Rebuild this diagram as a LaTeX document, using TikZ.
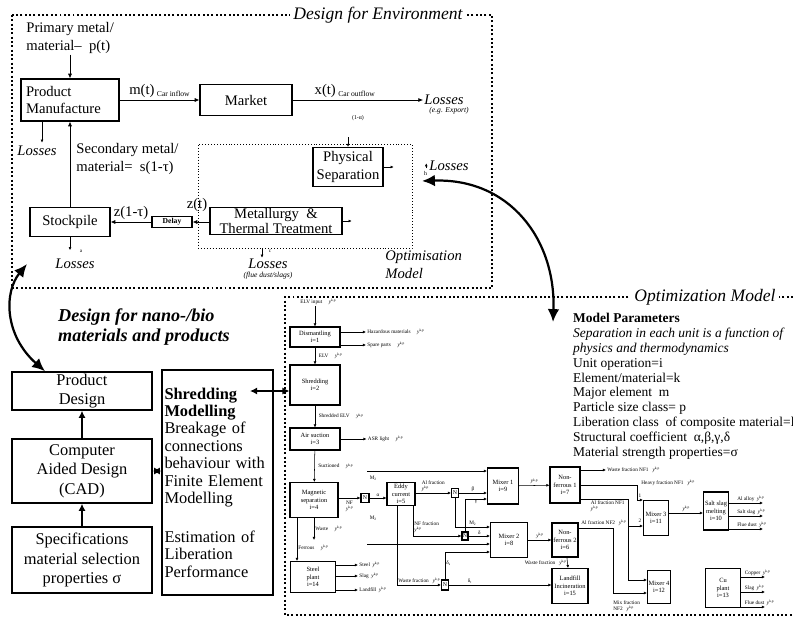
\documentclass[tikz,border=0pt]{standalone}
\usepackage{fontspec}
\setmainfont{Liberation Serif}
\usetikzlibrary{arrows.meta,positioning}
\newcommand{\ykp}{\textit{y}\raisebox{1.3pt}{\fontsize{3}{3}\selectfont k,p}}
\newcommand{\lowi}[1]{\raisebox{-0.8pt}{\fontsize{3}{3}\selectfont #1}}
\tikzset{
  frame/.style={line width=1.7pt, dotted},
  thinframe/.style={draw, line width=0.5pt, dotted, inner sep=0pt},
  box/.style={draw, line width=1.1pt, align=center, inner sep=2pt, font=\fontsize{12.5}{15}\selectfont},
  lbox/.style={box, line width=1.3pt, inner ysep=1pt, font=\fontsize{14}{16.6}\selectfont},
  unit/.style={draw, line width=0.9pt, align=center, inner sep=0.5pt, font=\fontsize{5.5}{6.3}\selectfont},
  nbox/.style={draw, line width=0.9pt, inner sep=0pt, font=\fontsize{5}{5}\selectfont},
  lbl/.style={align=left, inner sep=1pt, font=\fontsize{12.5}{15}\selectfont},
  loss/.style={inner sep=1pt, font=\fontsize{12.5}{15}\itshape},
  tlbl/.style={align=left, inner sep=1pt, font=\fontsize{4.5}{5.2}\selectfont},
  ttl/.style={fill=white, inner xsep=3pt, inner ysep=1pt, font=\fontsize{15}{17}\itshape},
  sz/.style 2 args={minimum width=#1*0.03cm, minimum height=#2*0.03cm},
  flow/.style={-{Latex[length=4pt, width=3.5pt]}, line width=0.6pt},
  sflow/.style={-{Latex[length=2.6pt, width=2.4pt]}, line width=0.45pt},
  uflow/.style={-{Latex[length=6pt, width=6pt]}, line width=1.4pt},
  dflow/.style={{Latex[length=6pt, width=6pt]}-{Latex[length=6pt, width=6pt]}, line width=1.3pt},
  link/.style={{Latex[length=11pt, width=10pt]}-{Latex[length=11pt, width=10pt]}, line width=1.9pt}
}
\begin{document}
\begin{tikzpicture}[x=0.03cm, y=-0.03cm]
\useasboundingbox (0,0) rectangle (793,620);

% design for environment
\draw[frame] (12,15) rectangle (492,288);
\node[ttl] (dfe) at (378,15) {Design for Environment};

\node[lbl, anchor=north west] (prim) at (25,21) {Primary metal/\\material–\enspace p(t)};
\node[box, sz={98}{42}, align=left, text width=88*0.03cm] (pm) at (70,100) {Product\\Manufacture};
\node[box, sz={92}{31}] (mkt) at (246,100) {Market};
\node[loss, anchor=west] (lossx) at (423,100) {Losses};
\node[font=\fontsize{6.5}{7}\itshape, anchor=north west, inner sep=1pt] (exp) at (428,106) {(e.g. Export)};
\node[font=\fontsize{5}{6}\selectfont] (frac) at (358,118) {(1-α)};
\draw[flow] (prim.south -| pm.north) -- (pm.north);
\draw[flow] (pm) -- (mkt) node[midway, above=1pt, lbl] {m(t)\,\raisebox{-2pt}{\fontsize{6.5}{7}\selectfont Car inflow}};
\draw[flow] (mkt) -- (lossx) node[pos=0.4, above=1pt, lbl] {x(t)\,\raisebox{-2pt}{\fontsize{6.5}{7}\selectfont Car outflow}};

% optimisation part
\node[thinframe, sz={214}{104}] (opt) at (305,196) {};
\node[box, sz={70}{39}] (ps) at (348,167) {Physical\\Separation};
\node[box, sz={132}{27}, inner ysep=0pt, font=\fontsize{12.5}{13}\selectfont] (mtt) at (276,221) {Metallurgy \ \&\\Thermal Treatment};
\coordinate (psin) at (348,137);
\draw[sflow] (psin) -- (ps.north);
\draw[sflow] (ps.east) -- ++(10,0);
\node[loss, anchor=west] (lossh) at (428,166) {Losses};
\draw[sflow] ([xshift=-1.5pt, yshift=-2pt]lossh.west) -- ++(0,-5);
\node[font=\fontsize{5}{5}\selectfont, inner sep=0pt] at ([xshift=-2pt, yshift=-6pt]lossh.west) {h};
\draw[sflow] (mtt.east) -- ++(9,0);
\node[loss] (lossc) at (268,264) {Losses};
\node[font=\fontsize{6.5}{7}\itshape, inner sep=0pt] (flue) at (268,276) {(flue dust/slags)};
\draw[sflow] (opt.south -| 262,0) -- (lossc.north -| 262,0);
\node[tlbl] at (270,251) {c};
\node[lbl, anchor=north west, font=\fontsize{12.5}{15.5}\itshape] (optm) at (384,249) {Optimisation\\Model};

\node[lbl] (zt) at (197,205) {z(t)};
\node[draw, line width=1pt, sz={40}{11}, inner sep=0pt, font=\fontsize{6.5}{7}\bfseries] (dly) at (172,222) {Delay};
\node[box, sz={80}{29}] (stk) at (70,222) {Stockpile};
\draw[flow] (mtt.west |- dly) -- (dly);
\draw[flow] (dly) -- (stk) node[midway, above=1pt, lbl] {z(1-τ)};
\draw[flow] (stk) -- (pm);
\node[lbl, anchor=north west] (sec) at (75,142) {Secondary metal/\\material=\enspace s(1-τ)};
\draw[sflow] (pm.south -| 42,0) -- ++(0,21);
\node[loss] (lossa) at (37,151) {Losses};
\draw[sflow] (stk.south) -- ++(0,13);
\node[loss] (losss) at (75,264) {Losses};
\node[tlbl] at (81,251) {a};

% nano/bio design
\node[font=\fontsize{15.5}{17.5}\bfseries\itshape, align=left, anchor=west] (nano) at (54,327) {Design for nano-/bio\\materials and products};
\node[lbox, sz={140}{38}] (pd) at (82,391) {Product\\Design};
\node[lbox, sz={140}{64}] (cad) at (82,471) {Computer\\Aided Design\\(CAD)};
\node[lbox, sz={140}{66}] (spec) at (82,560) {Specifications\\material selection\\properties σ};
\node[lbox, sz={111}{225}, align=left, inner xsep=1.5pt, text width=106*0.03cm, font=\fontsize{14}{14.9}\selectfont] (shm) at (217.5,482.5) {\textbf{Shredding}\\\textbf{Modelling}\\Breakage of\\connections\\behaviour with\\Finite Element\\Modelling\\[18pt]Estimation of\\Liberation\\Performance};
\draw[uflow] (spec) -- (cad);
\draw[uflow] (cad) -- (pd);
\draw[dflow] (cad.east) -- (shm.west |- cad.east);

% optimization model
\draw[frame] (793,297) -- (285,297) -- (285,615) -- (793,615);
\node[ttl] (omt) at (705,297) {Optimization Model};
\node[anchor=north west, align=left, inner sep=0pt, font=\fontsize{11.5}{12.7}\selectfont] (par) at (573,313) {\textbf{Model Parameters}\\\textit{Separation in each unit is a function of}\\\textit{physics and thermodynamics}\\Unit operation=i\\Element/material=k\\Major element\enspace m\\Particle size class= p\\Liberation class\enspace of composite material=l\\Structural coefficient\enspace α,β,γ,δ\\Material strength properties=σ};

\node[tlbl] (elvin) at (318,302) {ELV input \quad \ykp};
\node[unit, sz={50}{20}] (dis) at (315,337) {Dismantling\\i=1};
\node[unit, sz={50}{40}] (shr) at (315,385) {Shredding\\i=2};
\node[unit, sz={50}{22}] (air) at (315,439) {Air suction\\i=3};
\node[unit, sz={48}{35}] (mag) at (314,500) {Magnetic\\separation\\i=4};
\node[unit, sz={45}{31}] (stl) at (313,577) {Steel\\plant\\i=14};
\node[nbox, sz={8}{9}] (n1) at (365,498) {N};
\node[unit, sz={28}{23}] (edd) at (401,494) {Eddy\\current\\i=5};
\node[nbox, sz={7}{9}] (n2) at (455,493) {N};
\node[nbox, sz={6}{8}] (n3) at (465,536) {N};
\node[nbox, sz={7}{10}] (n4) at (445,585) {N};
\node[unit, sz={31}{36}] (mx1) at (503,486) {Mixer 1\\i=9};
\node[unit, sz={37}{35}] (mx2) at (509,540) {Mixer 2\\i=8};
\node[unit, sz={30}{36}] (nf1) at (565,485) {Non-\\ferrous 1\\i=7};
\node[unit, sz={26}{34}] (nf2) at (565,540) {Non-\\ferrous 2\\i=6};
\node[unit, sz={36}{35}] (lnd) at (570,586) {Landfill\\Incineration\\i=15};
\node[unit, sz={25}{35}] (mx3) at (656,518) {Mixer 3\\i=11};
\node[unit, sz={23}{33}] (mx4) at (659,587) {Mixer 4\\i=12};
\node[unit, sz={25}{38}] (slt) at (716,511) {Salt slag\\melting\\i=10};
\node[unit, sz={35}{39}] (cu) at (723,588) {Cu\\plant\\i=13};

\coordinate (shmin) at (250,391);
\draw[dflow] (shmin) -- (shr.west |- shmin);

\draw[sflow] (elvin.south -| dis.north) -- (dis.north);
\draw[sflow] (dis.east |- 0,332) -- (366,332) node[tlbl, right] {Hazardous materials \quad \ykp};
\draw[sflow] (dis.east |- 0,345) -- (366,345) node[tlbl, right] {Spare parts \quad \ykp};
\draw[sflow] (dis) -- (shr) node[tlbl, midway, right=2pt] {ELV \quad \ykp};
\draw[sflow] (shr) -- (air) node[tlbl, midway, right=2pt] {Shredded ELV \quad \ykp};
\draw[sflow] (air.east) -- ++(26,0) node[tlbl, right] {ASR light \quad \ykp};
\draw[sflow] (air) -- (mag) node[tlbl, midway, right=2pt] {Suctioned \quad \ykp};
\draw[sflow] (mag.east |- n1) -- (n1) node[tlbl, midway, below=1pt] {NF\\\ykp};
\draw[sflow] (n1) -- (edd.west |- n1) node[tlbl, midway, above] {α};
\node[tlbl] at (373,478) {M\lowi{2}};
\node[tlbl] at (373,518) {M\lowi{2}};
\draw[sflow] (mag.south) -- ++(0,22) node[tlbl, pos=0.5, right] {Waste \quad \ykp};
\draw[sflow] (mag.south -| 297,0) -- (stl.north -| 297,0) node[tlbl, pos=0.7, right] {Ferrous \quad \ykp};
\foreach \yy/\tx in {565/Steel, 576/Slag, 590/Landfill}
  \draw[sflow] (stl.east |- 0,\yy) -- (358,\yy) node[tlbl, right] {\tx \enspace \ykp};

\draw[sflow] (367,471) -- (mx1.west |- 0,471);
\draw[sflow] (367,544) -- (mx2.west |- 0,544);
\draw[sflow] (edd.east |- n2) -- (n2) node[tlbl, midway, above] {Al fraction\\\ykp};
\draw[sflow] (edd.south -| 413,0) |- (n3) node[tlbl, pos=0.35, right] {NF fraction\\\ykp};
\draw[sflow] (edd.south -| 397,0) |- (n4) node[tlbl, pos=0.75, above] {Waste fraction \enspace \ykp};
\draw[sflow] (n2) -- (mx1.west |- n2) node[tlbl, midway, above] {β};
\draw[sflow] (n2.south) |- (mx2.west |- 0,527) node[tlbl, pos=0.75, above] {M\lowi{2}};
\draw[sflow] (n3.north) |- (mx1.west |- 0,499) node[tlbl, pos=0.75, below] {γ};
\draw[sflow] (n3) -- (mx2.west |- n3) node[tlbl, midway, above] {δ};
\draw[sflow] (n4.north) |- (mx2.west |- 0,552) node[tlbl, pos=0.3, right] {δ\lowi{s}};
\draw[sflow] (n4) -- (lnd.west |- n4) node[tlbl, pos=0.2, above] {δ\lowi{t}};

\draw[sflow] (mx1) -- (nf1) node[tlbl, midway, above] {\ykp};
\draw[sflow] (mx2) -- (nf2) node[tlbl, midway, above] {\ykp};
\draw[sflow] (nf2) -- (lnd) node[tlbl, midway, left] {Waste fraction \enspace \ykp};

\draw[sflow] (nf1.east |- 0,470) -- (606,470) node[tlbl, right] {Waste fraction NF1 \enspace \ykp};
\draw[sflow] (nf1.east |- 0,485) -| (637,500) -- (mx3.west |- 0,500);
\node[tlbl, anchor=west] at (640,483) {Heavy fraction NF1 \enspace \ykp};
\draw (nf1.east |- 0,499) -| (628,580);
\draw[sflow] (628,526) -- (mx3.west |- 0,526);
\draw[sflow] (628,580) -- (mx4.west |- 0,580);
\node[tlbl, anchor=east] at (626,506) {Al fraction NF1\\\ykp};
\node[tlbl] at (640,496) {1};
\node[tlbl] at (640,521) {2};
\draw[sflow] (nf2.east |- 0,528) -| (613,593) -- (mx4.west |- 0,593);
\node[tlbl, anchor=south west] at (580,527) {Al fraction NF2 \enspace \ykp};
\node[tlbl, anchor=west] at (612,606) {Mix fraction\\NF2 \enspace \ykp};

\draw[sflow] (mx3.east |- 0,513) -- (slt.west |- 0,513) node[tlbl, midway, above] {\ykp};
\foreach \yy/\tx in {503/Al alloy, 516/Salt slag, 529/Flue dust}
  \draw[sflow] (slt.east |- 0,\yy) -- (763,\yy) node[tlbl, pos=0.2, anchor=south west] {\tx \enspace \ykp};
\foreach \yy/\tx in {577/Copper, 592/Slag, 607/Flue dust}
  \draw[sflow] (cu.east |- 0,\yy) -- (765,\yy) node[tlbl, pos=0.1, anchor=south west] {\tx \enspace \ykp};

% links between the parts
\coordinate (ltip) at (27,264);
\draw[link] (ltip) .. controls (4,292) and (4,335) .. (pd.north -| 45,0);
\coordinate (rtipa) at (422,181);
\coordinate (rtipb) at (553,322);
\draw[link] (rtipa) .. controls (510,178) and (556,240) .. (rtipb);
\end{tikzpicture}
\end{document}
